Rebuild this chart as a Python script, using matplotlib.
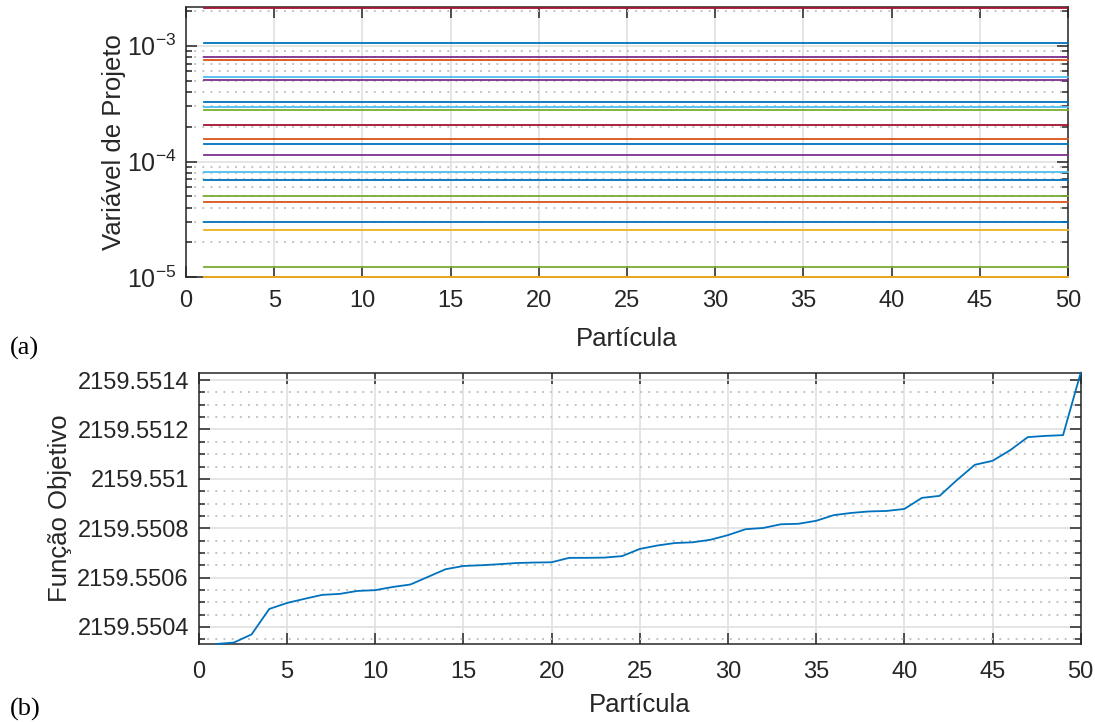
import numpy as np
import matplotlib
matplotlib.use('Agg')
import matplotlib.pyplot as plt
from matplotlib.ticker import (MultipleLocator, LogLocator, FuncFormatter,
                               LogFormatterSciNotation, NullFormatter)

# Particle index shared by both panels.
particles = list(range(1, 51))

# (a) design variables, each one is flat across the swarm.
design_values = [
    2.14e-3, 1.06e-3, 7.94e-4, 7.57e-4, 5.40e-4, 5.05e-4, 3.24e-4,
    2.97e-4, 2.78e-4, 2.08e-4, 1.58e-4, 1.41e-4, 1.15e-4, 8.10e-5,
    6.90e-5, 5.02e-5, 4.46e-5, 3.01e-5, 2.55e-5, 1.23e-5, 1.00e-5,
    1.01e-5,
]
design_colors = [
    '#A2142F', '#0072BD', '#7E2F8E', '#D95319', '#4DBEEE', '#7E2F8E',
    '#0072BD', '#4DBEEE', '#77AC30', '#A2142F', '#D95319', '#0072BD',
    '#7E2F8E', '#4DBEEE', '#0072BD', '#77AC30', '#D95319', '#0072BD',
    '#EDB120', '#77AC30', '#D95319', '#EDB120',
]

# (b) objective function, sorted per particle.
objective = [
    2159.550331, 2159.550337, 2159.550370, 2159.550473, 2159.550497,
    2159.550514, 2159.550530, 2159.550534, 2159.550546, 2159.550549,
    2159.550562, 2159.550572, 2159.550603, 2159.550634, 2159.550647,
    2159.550650, 2159.550654, 2159.550659, 2159.550661, 2159.550662,
    2159.550680, 2159.550680, 2159.550681, 2159.550687, 2159.550716,
    2159.550730, 2159.550740, 2159.550743, 2159.550753, 2159.550772,
    2159.550796, 2159.550801, 2159.550816, 2159.550818, 2159.550830,
    2159.550853, 2159.550862, 2159.550868, 2159.550870, 2159.550878,
    2159.550923, 2159.550931, 2159.550996, 2159.551057, 2159.551073,
    2159.551116, 2159.551169, 2159.551174, 2159.551177, 2159.551430,
]

INK = '#262626'

plt.rcParams['font.family'] = ['Liberation Sans', 'DejaVu Sans']
plt.rcParams['mathtext.fontset'] = 'custom'
plt.rcParams['mathtext.rm'] = 'Liberation Sans'
plt.rcParams['mathtext.it'] = 'Liberation Sans:italic'


def matlab_axes(ax):
    """Box, inward ticks and the grey grid of a MATLAB figure."""
    for s in ax.spines.values():
        s.set_color(INK)
        s.set_linewidth(1.1)
    ax.tick_params(which='both', direction='in', top=True, right=True,
                   colors=INK, labelsize=17, width=1.1)
    ax.tick_params(which='major', length=8)
    ax.tick_params(which='minor', length=4.5)
    ax.tick_params(axis='y', which='both', pad=7)
    ax.grid(True, which='major', color='#dedede', linewidth=1.1)
    ax.grid(False, which='minor', axis='x')
    ax.grid(True, which='minor', axis='y', color='#c4c4c4',
            linewidth=1.4, linestyle=(0, (1, 3.2)))
    ax.set_axisbelow(True)
    ax.set_xlim(0, 50)
    ax.xaxis.set_major_locator(MultipleLocator(5))


def main():
    fig = plt.figure(figsize=(10.95, 7.22), dpi=100)

    # (a)
    ax1 = fig.add_axes([186 / 1095, 1 - 277.3 / 722, 882 / 1095, 270 / 722])
    for val, col in zip(design_values, design_colors):
        ax1.plot(particles, [val] * len(particles), color=col,
                 linewidth=1.3, clip_on=False, zorder=3)
    ax1.set_yscale('log')
    ax1.set_ylim(1e-5, 2.15e-3)
    ax1.yaxis.set_major_locator(LogLocator(base=10))
    ax1.yaxis.set_minor_locator(LogLocator(base=10, subs=np.arange(2, 10)))
    ax1.yaxis.set_major_formatter(LogFormatterSciNotation())
    ax1.yaxis.set_minor_formatter(NullFormatter())
    matlab_axes(ax1)
    ax1.tick_params(axis='y', labelsize=18)
    ax1.tick_params(axis='x', pad=9)
    ax1.set_xlabel('Partícula', fontsize=18.5, color=INK, labelpad=11)
    ax1.set_ylabel('Variável de Projeto', fontsize=18.5, color=INK)
    ax1.yaxis.set_label_coords(-0.0675, 0.5)

    # (b)
    ax2 = fig.add_axes([198.7 / 1095, 1 - 644 / 722, 882 / 1095,
                        271.3 / 722])
    ax2.plot(particles, objective, color='#0072BD', linewidth=1.3,
             clip_on=False, zorder=3)
    ax2.set_ylim(2159.550331, 2159.551430)
    ax2.yaxis.set_major_locator(MultipleLocator(0.0002))
    ax2.yaxis.set_minor_locator(MultipleLocator(0.00005))
    ax2.yaxis.set_major_formatter(FuncFormatter(lambda v, p: '%.8g' % v))
    matlab_axes(ax2)
    ax2.tick_params(axis='x', pad=12)
    ax2.set_xlabel('Partícula', fontsize=18.5, color=INK, labelpad=7.5)
    ax2.set_ylabel('Função Objetivo', fontsize=18.5, color=INK)
    ax2.yaxis.set_label_coords(-0.1442, 0.5)

    fig.text(10 / 1095, 1 - 348 / 722, '(a)', fontsize=19, va='center',
             family=['Liberation Serif', 'DejaVu Serif'])
    fig.text(10 / 1095, 1 - 709 / 722, '(b)', fontsize=19, va='center',
             family=['Liberation Serif', 'DejaVu Serif'])

    fig.savefig('out.png', dpi=100)


if __name__ == '__main__':
    main()
